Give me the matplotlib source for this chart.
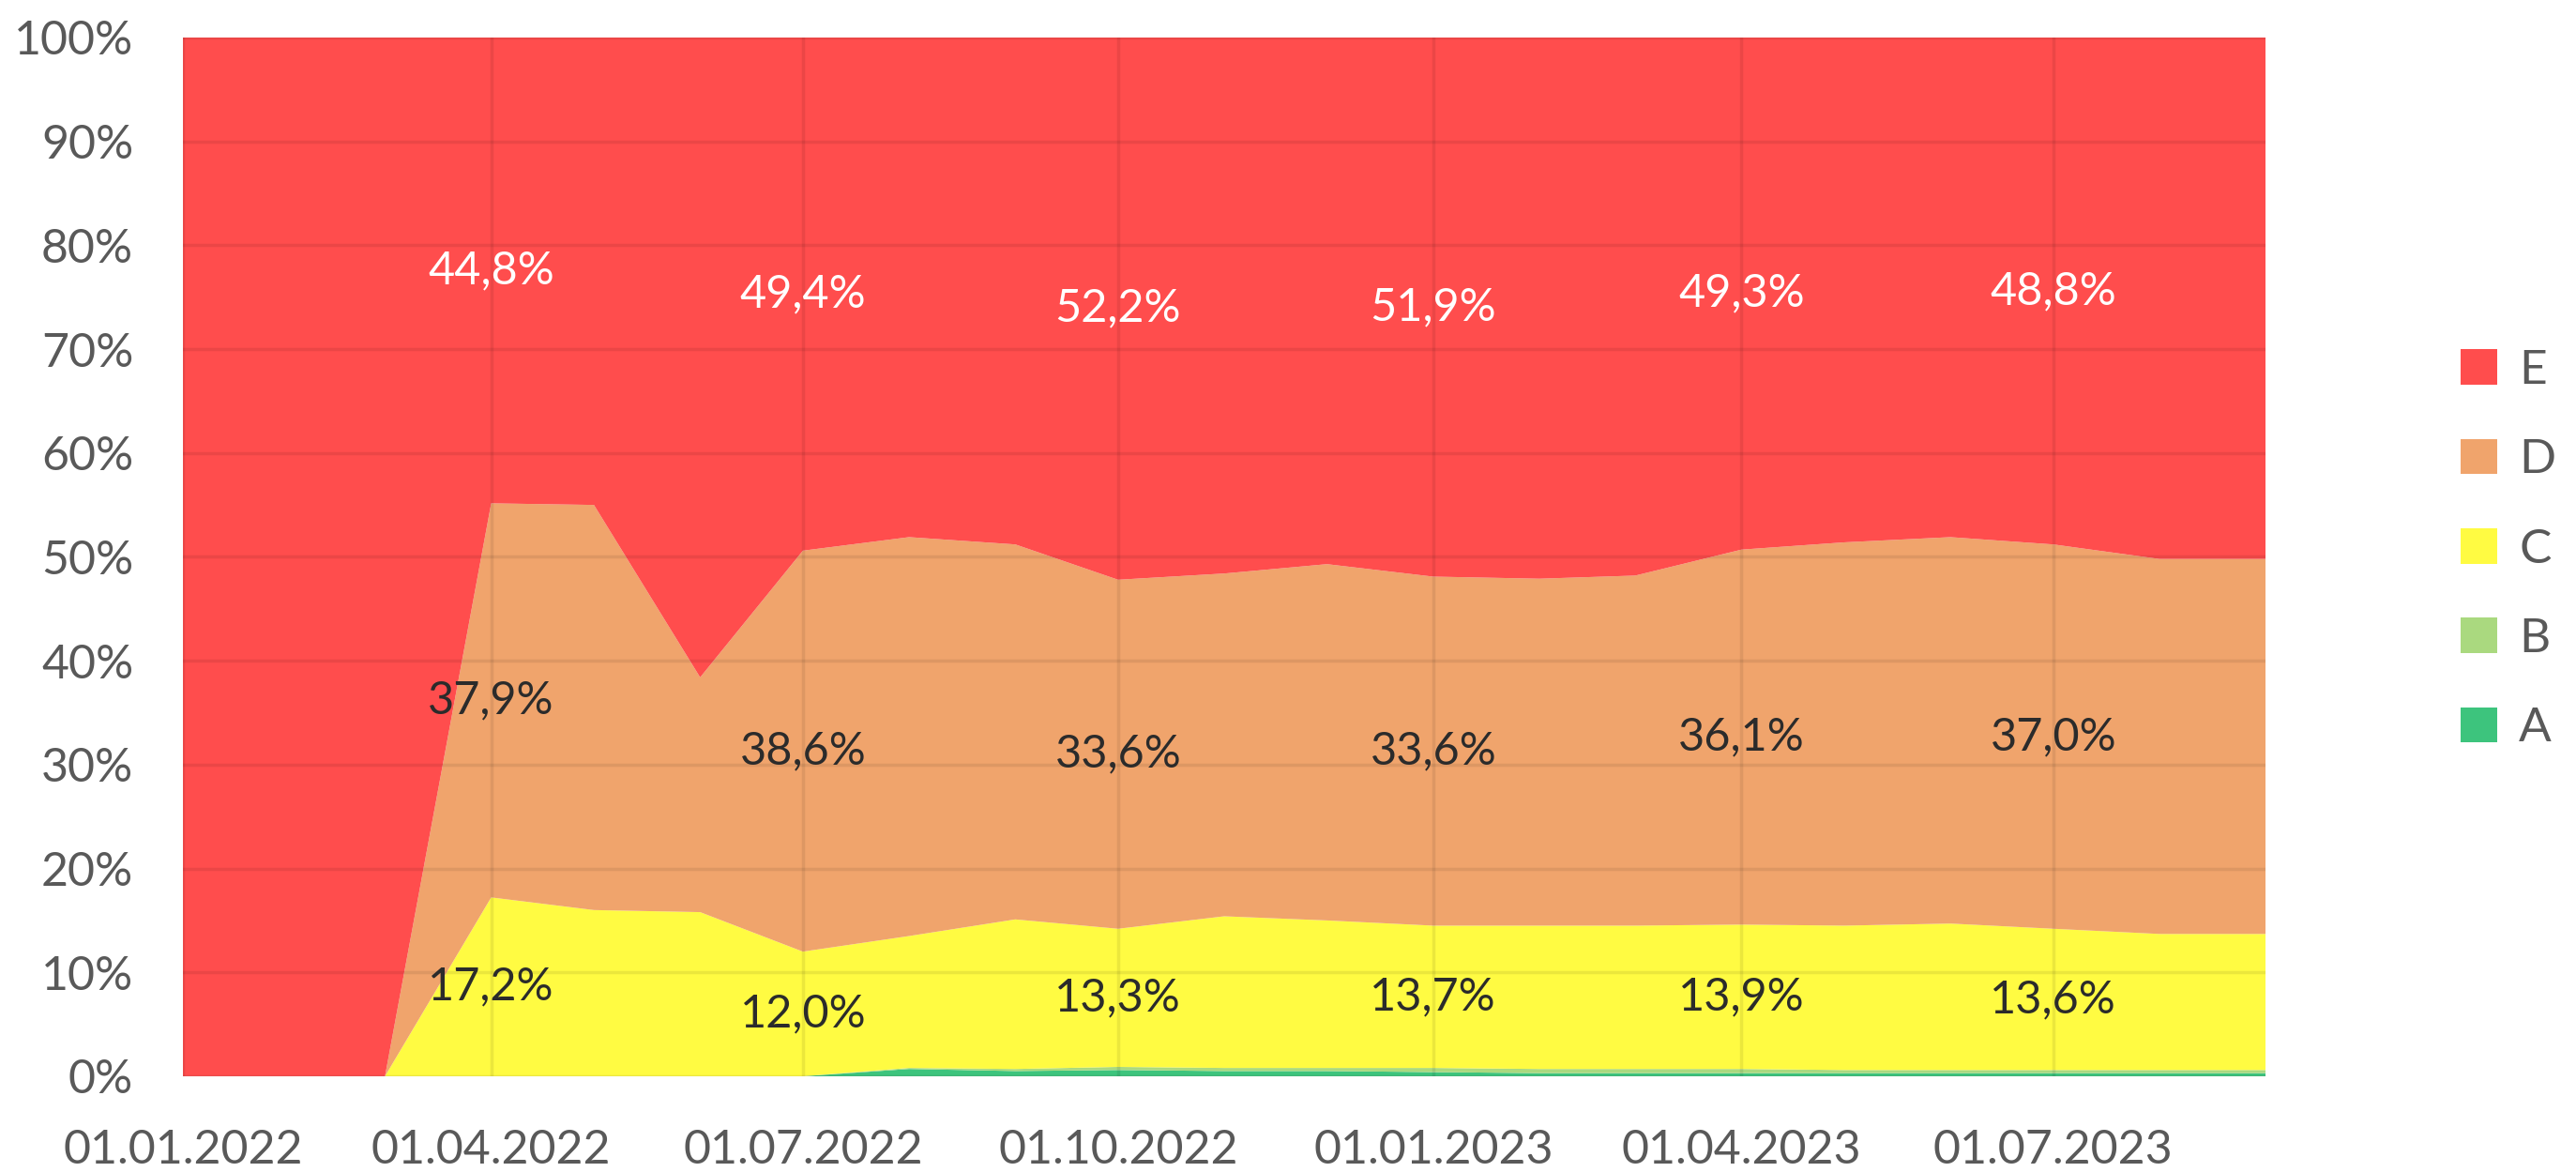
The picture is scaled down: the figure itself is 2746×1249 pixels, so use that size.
import numpy as np
import pandas as pd
import matplotlib
matplotlib.use("Agg")
import matplotlib.pyplot as plt
import matplotlib.dates as mdates
from matplotlib.patches import Patch

# monthly shares, %
months = pd.date_range("2022-01-01", "2023-09-01", freq="MS")
share_a = [0, 0, 0, 0, 0, 0, 0, 0.7, 0.5, 0.6, 0.5, 0.5, 0.4, 0.3, 0.3, 0.3, 0.3, 0.3, 0.3, 0.3, 0.3]
share_b = [0, 0, 0, 0, 0, 0, 0, 0.1, 0.2, 0.3, 0.3, 0.3, 0.4, 0.4, 0.4, 0.4, 0.3, 0.3, 0.3, 0.3, 0.3]
share_c = [0, 0, 0, 17.2, 16.0, 15.8, 12.0, 12.7, 14.4, 13.3, 14.6, 14.2, 13.7, 13.8, 13.8, 13.9, 13.9, 14.1, 13.6, 13.1, 13.1]
share_d = [0, 0, 0, 37.9, 39.0, 22.6, 38.6, 38.4, 36.1, 33.6, 33.0, 34.3, 33.6, 33.4, 33.7, 36.1, 36.9, 37.2, 37.0, 36.1, 36.1]
share_e = [100, 100, 100, 44.8, 45.0, 61.6, 49.4, 48.1, 48.8, 52.2, 51.6, 50.7, 51.9, 52.1, 51.8, 49.3, 48.6, 48.1, 48.8, 50.2, 50.2]

series_names = ["A", "B", "C", "D", "E"]
series_colors = ["#3DC47D", "#AAD97F", "#FFFB42", "#F0A46C", "#FF4D4D"]
label_idx = [3, 6, 9, 12, 15, 18]
tick_labels = ["01.01.2022", "01.04.2022", "01.07.2022", "01.10.2022",
               "01.01.2023", "01.04.2023", "01.07.2023"]

plt.rcParams["font.family"] = ["Lato", "DejaVu Sans"]

raw = np.array([share_a, share_b, share_c, share_d, share_e], dtype=float)
pct = raw / raw.sum(axis=0) * 100

fig = plt.figure(figsize=(27.46, 12.49), dpi=100)
ax = fig.add_axes([0.071, 0.0817, 0.8085, 0.8863])

ax.stackplot(months, pct, colors=series_colors, linewidth=0, zorder=1)

ax.set_xlim(months[0], months[-1])
ax.set_ylim(0, 100)
ax.set_yticks(np.arange(0, 101, 10))
ax.set_yticklabels([f"{v}%" for v in range(0, 101, 10)])
tick_dates = pd.to_datetime(tick_labels, format="%d.%m.%Y")
ax.set_xticks(tick_dates)
ax.set_xticklabels(tick_labels)

ax.grid(True, color="black", alpha=0.08, linewidth=2.5, zorder=2)
ax.set_axisbelow(False)
for s in ax.spines.values():
    s.set_visible(False)
ax.tick_params(length=0, labelsize=36, colors="#595959")
ax.tick_params(axis="y", pad=38)
ax.tick_params(axis="x", pad=40)

# data labels for C, D, E at quarterly points
bottoms = np.cumsum(pct, axis=0) - pct
for k, col in [(2, "#2b2b2b"), (3, "#2b2b2b"), (4, "white")]:
    for i in label_idx:
        y = bottoms[k, i] + pct[k, i] / 2
        txt = f"{raw[k, i]:.1f}%".replace(".", ",")
        ax.text(months[i], y, txt, ha="center", va="center",
                fontsize=35, color=col, zorder=3)

handles = [Patch(facecolor=c, edgecolor="none") for c in series_colors][::-1]
fig.legend(handles, series_names[::-1], loc="center left",
           bbox_to_anchor=(0.946, 0.531), frameon=False, fontsize=37,
           handlelength=0.75, handleheight=0.75, handletextpad=0.45,
           labelspacing=0.96, labelcolor="#595959", borderpad=0)

fig.savefig("out.png", dpi=100, facecolor="white")
